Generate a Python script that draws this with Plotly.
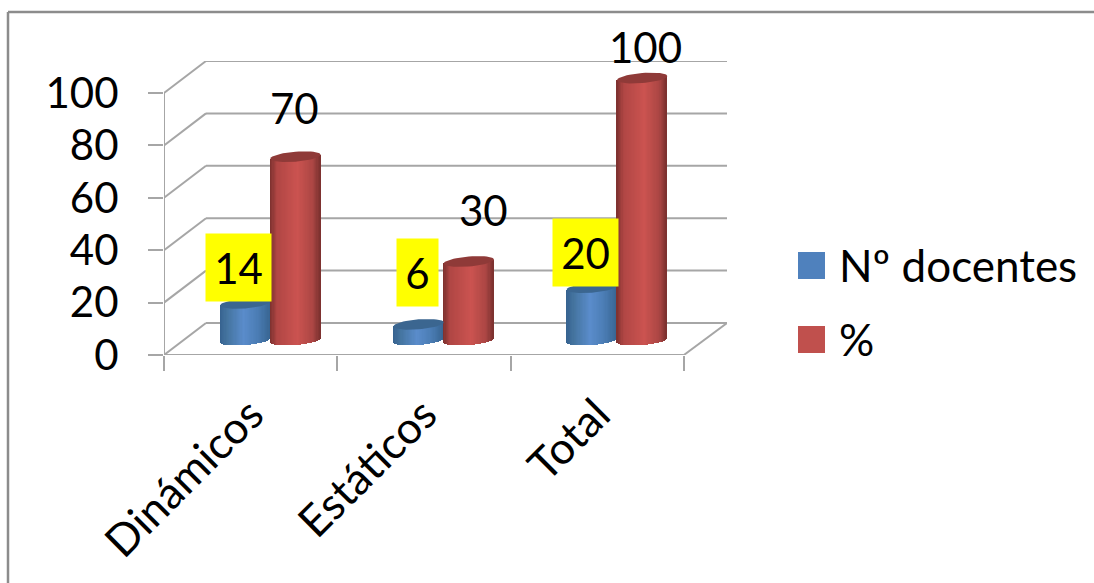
import math
import plotly.graph_objects as go

categories = ["Dinámicos", "Estáticos", "Total"]
docentes = [14, 6, 20]
porcentaje = [70, 30, 100]
y_ticks = [0, 20, 40, 60, 80, 100]
series_names = ["Nº docentes", "%"]
legend_colors = ["#4f81bd", "#c0504d"]

W, H = 1094, 583
PX_L, PX_R, PX_T, PX_B = 164, 727, 61, 355
X_UNIT = 173.3
Y_UNIT = 2.62
DX, DY = 42 / X_UNIT, 32 / Y_UNIT
X_MAX = (PX_R - PX_L) / X_UNIT
Y_MAX = (PX_B - PX_T) / Y_UNIT
GRID = "#a6a6a6"
FONT = "Lato"
FS = 42
FS_WIDE = 44

BLUE_STOPS = [(-1, "#36618f"), (-0.7, "#44749f"), (-0.05, "#5a8ccb"), (0.5, "#4b7db5"), (1, "#386592")]
RED_STOPS = [(-1, "#7b302e"), (-0.72, "#b04644"), (0.1, "#cb5350"), (0.7, "#ab4644"), (1, "#7a302e")]
CAP_COLORS = ["#3b6690", "#8f3a38"]


def hex2(c):
    return [int(c[i:i + 2], 16) for i in (1, 3, 5)]


def shade(stops, t):
    for (a, ca), (b, cb) in zip(stops, stops[1:]):
        if a <= t <= b:
            f = (t - a) / (b - a)
            return "rgb(%d,%d,%d)" % tuple(round(p + (q - p) * f) for p, q in zip(hex2(ca), hex2(cb)))
    return stops[-1][1]


def px(x):
    return x / W


def py(y):
    return 1 - y / H


fig = go.Figure()

# cylinders: vertical strips per series (bars) + elliptic cap
N = 41
BAR_W = 0.29
GROUP_SHIFT = 0.114
FLOOR = 5.7
TILT = 2 / Y_UNIT
B = 5 / Y_UNIT
for s, (vals, stops, cap) in enumerate(zip([docentes, porcentaje], [BLUE_STOPS, RED_STOPS], CAP_COLORS)):
    centers = [i + 0.5 + GROUP_SHIFT + (s - 0.5) * BAR_W for i in range(len(vals))]
    for k in range(N):
        t = -1 + (2 * k + 1) / N
        sx = [c + t * BAR_W / 2 for c in centers]
        low = FLOOR + TILT * t - B * math.sqrt(1 - t * t)
        fig.add_trace(go.Bar(
            x=sx, y=[v + FLOOR + TILT * t - low for v in vals], base=[low] * len(vals),
            width=BAR_W / N * 1.12, marker=dict(color=shade(stops, t), line=dict(width=0)),
            showlegend=False, hoverinfo="skip"))
    for c, v in zip(centers, vals):
        th = [2 * math.pi * j / 48 for j in range(49)]
        fig.add_trace(go.Scatter(
            x=[c + BAR_W / 2 * math.cos(a) for a in th],
            y=[v + FLOOR + TILT * math.cos(a) + B * math.sin(a) for a in th],
            mode="lines", line=dict(width=0), fill="toself", fillcolor=cap,
            showlegend=False, hoverinfo="skip"))

# walls and floor
shapes = []


def seg(x0, y0, x1, y1):
    shapes.append(dict(type="line", xref="x", yref="y", x0=x0, y0=y0, x1=x1, y1=y1,
                       layer="below", line=dict(color=GRID, width=2)))


for v in y_ticks:
    seg(0, v, DX, v + DY)
    seg(DX, v + DY, X_MAX, v + DY)
seg(0, 0, 0, y_ticks[-1])
seg(0, 0, len(categories), 0)
seg(len(categories), 0, X_MAX, DY)

# outer frame
for x0, y0, x1, y1 in [(8, 12, 1094, 12), (8, 12, 8, 583)]:
    shapes.append(dict(type="line", xref="paper", yref="paper", x0=px(x0), y0=py(y0), x1=px(x1), y1=py(y1),
                       line=dict(color="#8c8c8c", width=2.5)))

# legend
annotations = []
for name, col, top in zip(series_names, legend_colors, [252, 326]):
    shapes.append(dict(type="rect", xref="paper", yref="paper", x0=px(798), x1=px(825), y0=py(top), y1=py(top + 27),
                       fillcolor=col, line=dict(width=0)))
    annotations.append(dict(xref="paper", yref="paper", x=px(840), y=py(top + 13), text=name, showarrow=False,
                            xanchor="left", yanchor="middle", xshift=-3,
                            font=dict(family=FONT, size=FS_WIDE, color="#000")))

# data labels
plain_pos = [(294, 108), (483, 210), (645, 47)]
for v, (x, y) in zip(porcentaje, plain_pos):
    annotations.append(dict(xref="paper", yref="paper", x=px(x), y=py(y), text=str(v), showarrow=False,
                            xanchor="center", yanchor="middle", font=dict(family=FONT, size=FS, color="#000")))
box_pos = [(206, 271, 234, 301), (397, 438, 239, 306), (553, 618, 219, 286)]
for v, (x0, x1, y0, y1) in zip(docentes, box_pos):
    annotations.append(dict(xref="paper", yref="paper", x=px((x0 + x1) / 2), y=py((y0 + y1) / 2), text=str(v),
                            showarrow=False, xanchor="center", yanchor="middle", width=x1 - x0, height=y1 - y0,
                            bgcolor="#ffff00", borderpad=0, font=dict(family=FONT, size=FS, color="#000")))

fig.update_layout(
    width=W, height=H, margin=dict(l=0, r=0, t=0, b=0, autoexpand=False), paper_bgcolor="#fff",
    plot_bgcolor="rgba(0,0,0,0)",
    barmode="overlay", bargap=0, showlegend=False, shapes=shapes, annotations=annotations,
    font=dict(family=FONT, size=FS, color="#000"),
    xaxis=dict(domain=[PX_L / W, PX_R / W], range=[0, X_MAX], showgrid=False, zeroline=False, showline=False,
               tickmode="array", tickvals=[i + 0.5 for i in range(len(categories))], ticktext=categories,
               tickangle=-45, ticks="", ticklabelstandoff=24, tickfont=dict(family=FONT, size=FS_WIDE, color="#000"),
               minor=dict(tickmode="array", tickvals=list(range(len(categories) + 1)), ticks="outside", ticklen=15,
                          tickwidth=2, tickcolor=GRID, showgrid=False)),
    yaxis=dict(domain=[1 - PX_B / H, 1 - PX_T / H], range=[0, Y_MAX], showgrid=False, zeroline=False, showline=False,
               tickmode="array", tickvals=y_ticks, ticks="outside", ticklen=15, tickwidth=2, tickcolor=GRID,
               ticklabelstandoff=21, tickfont=dict(family=FONT, size=FS, color="#000")),
)

fig.write_html("out.html", config=dict(displayModeBar=False),
               post_script="document.body.style.margin='0';document.body.style.overflow='hidden';")
